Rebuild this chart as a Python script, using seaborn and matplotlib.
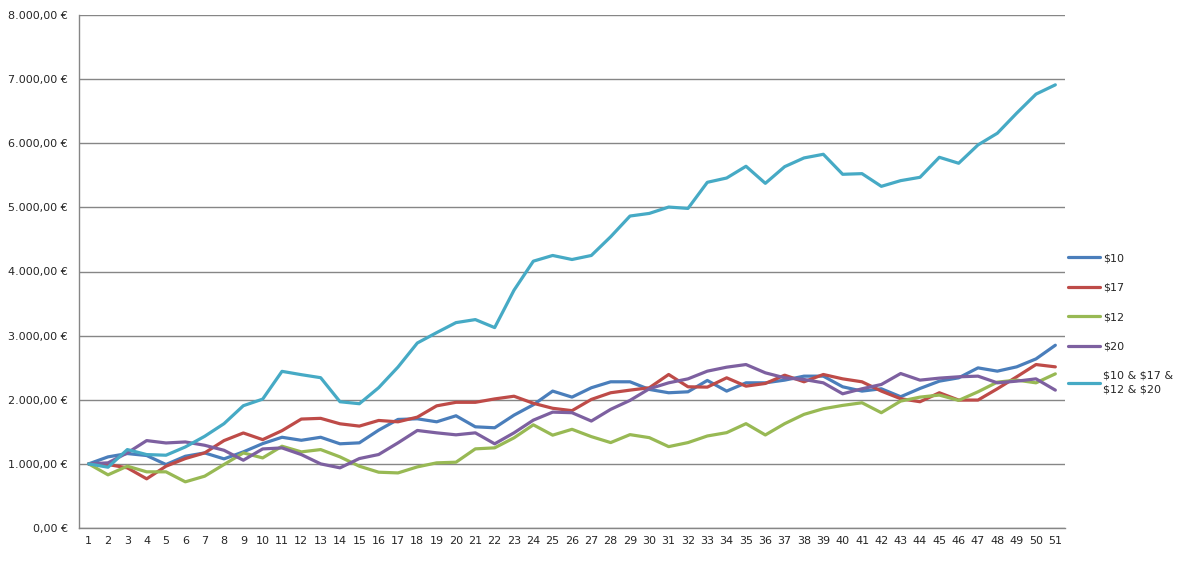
import numpy as np
import pandas as pd
import matplotlib
matplotlib.use("Agg")
import matplotlib.pyplot as plt
import matplotlib.ticker as mticker
import seaborn as sns

# weeks 1..51
weeks = list(range(1, 52))

s10 = [1000, 1109, 1161, 1130, 990, 1119, 1171, 1078, 1187, 1316,
       1415, 1368, 1415, 1313, 1328, 1526, 1693, 1703, 1656, 1750,
       1578, 1563, 1760, 1922, 2135, 2041, 2187, 2280, 2280, 2161,
       2109, 2124, 2301, 2135, 2264, 2264, 2306, 2368, 2368, 2202,
       2135, 2171, 2047, 2176, 2290, 2342, 2497, 2446, 2513, 2637, 2850]
s17 = [1000, 990, 938, 767, 964, 1083, 1171, 1363, 1482, 1378,
       1518, 1699, 1710, 1625, 1589, 1677, 1656, 1729, 1905, 1960,
       1960, 2013, 2055, 1945, 1867, 1830, 2005, 2109, 2150, 2187,
       2394, 2202, 2197, 2342, 2212, 2254, 2383, 2280, 2394, 2326,
       2280, 2135, 2016, 1969, 2109, 1995, 1995, 2171, 2358, 2549, 2513]
s12 = [1000, 829, 964, 876, 876, 720, 808, 990, 1171, 1093,
       1275, 1187, 1223, 1109, 964, 870, 859, 953, 1016, 1026,
       1234, 1250, 1406, 1609, 1448, 1539, 1425, 1332, 1456, 1409,
       1269, 1332, 1435, 1487, 1627, 1451, 1627, 1772, 1860, 1912,
       1953, 1798, 1979, 2041, 2073, 1990, 2124, 2275, 2306, 2264, 2404]
s20 = [1000, 1016, 1171, 1363, 1326, 1342, 1290, 1212, 1057, 1233,
       1249, 1145, 1000, 938, 1083, 1146, 1328, 1521, 1484, 1453,
       1484, 1313, 1484, 1682, 1807, 1798, 1668, 1850, 1990, 2171,
       2264, 2326, 2446, 2508, 2549, 2420, 2342, 2316, 2264, 2093,
       2171, 2238, 2409, 2306, 2337, 2358, 2368, 2264, 2290, 2326, 2150]
combined = [1000, 948, 1223, 1145, 1135, 1264, 1430, 1627, 1907, 2010,
            2443, 2391, 2344, 1969, 1938, 2188, 2510, 2885, 3047, 3203,
            3250, 3125, 3708, 4161, 4250, 4187, 4250, 4542, 4865, 4906,
            5005, 4984, 5391, 5458, 5641, 5375, 5635, 5771, 5828, 5516,
            5526, 5328, 5417, 5469, 5781, 5688, 5974, 6156, 6469, 6766, 6911]

names = ["$10", "$17", "$12", "$20", "$10 & $17 &\n$12 & $20"]
colors = ["#4A7EBB", "#BE4B48", "#98B954", "#7D60A0", "#46AAC5"]

df = pd.DataFrame({
    "week": weeks * 5,
    "value": s10 + s17 + s12 + s20 + combined,
    "series": np.repeat(names, len(weeks)),
})

sns.set_style("white")
plt.rcParams["font.family"] = ["DejaVu Sans"]
plt.rcParams["text.parse_math"] = False

fig = plt.figure(figsize=(11.8, 5.62), dpi=100)
ax = fig.add_axes([79 / 1180, 1 - 528 / 562, (1065 - 79) / 1180, (528 - 15) / 562])

sns.lineplot(data=df, x="week", y="value", hue="series", hue_order=names,
             palette=colors, linewidth=2.3, ax=ax, legend=False)

ax.set_xlim(0.5, 51.5)
ax.set_ylim(0, 8000)
ax.set_xlabel("")
ax.set_ylabel("")

ax.set_xticks(weeks)
ax.set_xticks(np.arange(0.5, 52, 1), minor=True)
ax.tick_params(axis="x", which="major", length=0, labelsize=8, pad=6)
ax.tick_params(axis="x", which="minor", length=5, color="#868686", direction="out")
ax.set_yticks(np.arange(0, 8001, 1000))
ax.tick_params(axis="y", length=5, color="#868686", direction="out", labelsize=8, pad=3)


def euro(v, pos):
    s = f"{v:,.2f}".replace(",", "X").replace(".", ",").replace("X", ".")
    return s + " €"


ax.yaxis.set_major_formatter(mticker.FuncFormatter(euro))

ax.grid(axis="y", color="#868686", linewidth=1)
ax.set_axisbelow(True)
for side in ["top", "right"]:
    ax.spines[side].set_visible(False)
for side in ["left", "bottom"]:
    ax.spines[side].set_color("#868686")
    ax.spines[side].set_linewidth(1)

handles = [plt.Line2D([], [], color=c, linewidth=2.3) for c in colors]
leg = fig.legend(handles, names, loc="center left", bbox_to_anchor=(1064 / 1180, 1 - 324 / 562),
                 frameon=False, fontsize=8, handlelength=2.8, handletextpad=0.3,
                 labelspacing=1.75, borderaxespad=0)
for t in leg.get_texts():
    t.set_linespacing(1.5)

fig.savefig("out.png", dpi=100, facecolor="white")
